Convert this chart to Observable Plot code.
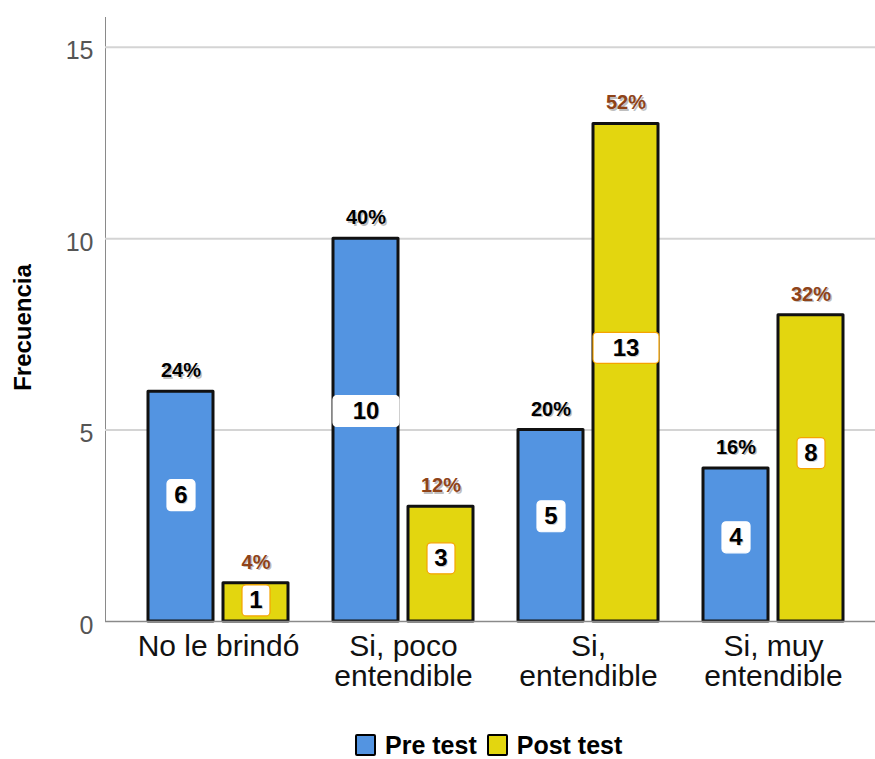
<!DOCTYPE html>
<html>
<head>
<meta charset="utf-8">
<script src="https://cdn.jsdelivr.net/npm/d3@7"></script>
<script src="https://cdn.jsdelivr.net/npm/@observablehq/plot@0.6"></script>
<style>
  body { margin: 0; background: #fff; font-family: "Liberation Sans", Arial, sans-serif; }
  #chart { position: relative; width: 875px; height: 759px; }
  .legend { position: absolute; left: 355px; top: 732px; display: flex; align-items: center;
            font-weight: bold; font-size: 25px; color: #000; line-height: 26px; }
  .legend .sw { width: 17px; height: 18px; border: 2.5px solid #000; border-radius: 2px; margin-right: 9px; }
  .legend .item { display: flex; align-items: center; margin-right: 10px; }
</style>
</head>
<body>
<div id="chart"></div>
<script>
// Answer categories (x axis), two lines where the label wraps
const categories = ["No le brindó", "Si, poco\nentendible", "Si,\nentendible", "Si, muy\nentendible"];
// Frequencies per test
const preTest = [6, 10, 5, 4];
const postTest = [1, 3, 13, 8];
const seriesNames = ["Pre test", "Post test"];
const seriesColors = ["#5394e1", "#e3d60f"];
const percentColors = ["#000000", "#8f4318"];
const yTicks = [0, 5, 10, 15];

const total = d3.sum(preTest); // respondents per test
const pct = d3.format(".0%");

const rows = categories.flatMap((c, i) => [
  {category: c, series: seriesNames[0], value: preTest[i]},
  {category: c, series: seriesNames[1], value: postTest[i]}
]);
const pre = rows.filter(d => d.series === seriesNames[0]);
const post = rows.filter(d => d.series === seriesNames[1]);

// rounded-rectangle symbol for the value labels
function roundedBox(w, h, r) {
  return {
    draw(ctx) {
      const x0 = -w / 2, y0 = -h / 2, x1 = w / 2, y1 = h / 2;
      ctx.moveTo(x0 + r, y0);
      ctx.lineTo(x1 - r, y0);
      ctx.arcTo(x1, y0, x1, y0 + r, r);
      ctx.lineTo(x1, y1 - r);
      ctx.arcTo(x1, y1, x1 - r, y1, r);
      ctx.lineTo(x0 + r, y1);
      ctx.arcTo(x0, y1, x0, y1 - r, r);
      ctx.lineTo(x0, y0 + r);
      ctx.arcTo(x0, y0, x0 + r, y0, r);
      ctx.closePath();
    }
  };
}
const smallBox = roundedBox(28, 31, 4);
const wideBox = roundedBox(66, 31, 4);
const labelY = d => d.value * 0.55;
const OFF = 37.5; // half distance between the two bars of a group

function seriesMarks(data, k) {
  const dx = k === 0 ? -OFF : OFF;
  const boxStroke = k === 0 ? "white" : "#f5a300";
  return [
    Plot.barY(data, {
      x: "category", y: "value", fill: seriesColors[k], stroke: "#111", strokeWidth: 3,
      strokeLinejoin: "round", ...(k === 0 ? {insetRight: 75} : {insetLeft: 75})
    }),
    // percentage above each bar (with soft shadow)
    Plot.text(data, {x: "category", y: "value", text: d => pct(d.value / total), dx: dx + 1.5, dy: -19.5,
      fill: "#000", fillOpacity: 0.25, fontWeight: "bold", fontSize: 20}),
    Plot.text(data, {x: "category", y: "value", text: d => pct(d.value / total), dx, dy: -21,
      fill: percentColors[k], fontWeight: "bold", fontSize: 20}),
    // value boxes inside bars
    Plot.dot(data.filter(d => d.value < 10), {x: "category", y: labelY, dx, symbol: smallBox,
      fill: "white", stroke: boxStroke, strokeWidth: 1.2}),
    Plot.dot(data.filter(d => d.value >= 10), {x: "category", y: labelY, dx, symbol: wideBox,
      fill: "white", stroke: boxStroke, strokeWidth: 1.2}),
    Plot.text(data, {x: "category", y: labelY, text: d => String(d.value), dx: dx + 1, dy: 1,
      fill: "#000", fillOpacity: 0.2, fontWeight: "bold", fontSize: 24}),
    Plot.text(data, {x: "category", y: labelY, text: d => String(d.value), dx,
      fill: "#000", fontWeight: "bold", fontSize: 24})
  ];
}

const chart = Plot.plot({
  width: 875,
  height: 705,
  marginLeft: 105,
  marginRight: 0,
  marginTop: 17,
  marginBottom: 84,
  style: {background: "white", color: "#8a8a8a", fontFamily: "'Liberation Sans', Arial, sans-serif"},
  x: {axis: null, domain: categories, paddingInner: 0.2406, paddingOuter: 0.194, align: 0.576},
  y: {domain: [0, 15.78], ticks: yTicks, tickSize: 0, tickFormat: () => "", line: true, label: null},
  marks: [
    Plot.ruleY(yTicks.filter(d => d > 0), {stroke: "#d4d4d4", strokeWidth: 2}),
    ...seriesMarks(pre, 0),
    ...seriesMarks(post, 1),
    Plot.ruleY([0], {stroke: "#8a8a8a", strokeWidth: 1.5}),
    // y tick labels
    Plot.text(yTicks, {y: d => d, text: d => String(d), frameAnchor: "left", textAnchor: "end",
      dx: -12, dy: 4, fontSize: 25, fill: "#555"}),
    // category labels
    Plot.text(categories, {x: d => d, text: d => d, frameAnchor: "bottom", lineAnchor: "top",
      dy: 13, fontSize: 30, lineHeight: 1.0, fill: "#111"}),
    // y axis title
    Plot.text(["Frecuencia"], {text: d => d, frameAnchor: "left", textAnchor: "middle", dx: -82, dy: 8,
      rotate: -90, fontWeight: "bold", fontSize: 24, fill: "#000"})
  ]
});

const root = document.getElementById("chart");
root.appendChild(chart);

const legend = document.createElement("div");
legend.className = "legend";
seriesNames.forEach((name, k) => {
  const item = document.createElement("div");
  item.className = "item";
  const sw = document.createElement("div");
  sw.className = "sw";
  sw.style.background = seriesColors[k];
  const label = document.createElement("span");
  label.textContent = name;
  item.appendChild(sw);
  item.appendChild(label);
  legend.appendChild(item);
});
root.appendChild(legend);
</script>
</body>
</html>
